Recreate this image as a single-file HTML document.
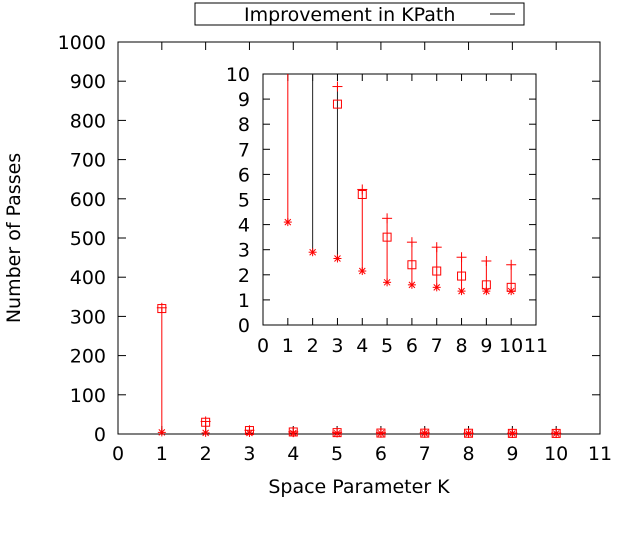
<!DOCTYPE html>
<html><head><meta charset="utf-8"><style>
body{margin:0;background:#fff}
svg text{font-family:"DejaVu Sans","Liberation Sans",sans-serif;fill:#000}
</style></head><body>
<svg id="c" width="640" height="540" viewBox="0 0 640 540"></svg>
<script>
const ks=[1,2,3,4,5,6,7,8,9,10];
const lowVals=[4.1,2.9,2.65,2.15,1.7,1.6,1.5,1.35,1.35,1.35];
const midVals=[320,30,8.8,5.2,3.5,2.4,2.15,1.95,1.6,1.5];
const highVals=[322,32,9.5,5.4,4.25,3.3,3.1,2.7,2.55,2.4];
const mainYTicks=[0,100,200,300,400,500,600,700,800,900,1000];
const xTicks=[0,1,2,3,4,5,6,7,8,9,10,11];
const insetYTicks=[0,1,2,3,4,5,6,7,8,9,10];
const NS="http://www.w3.org/2000/svg";
const svg=document.getElementById('c');
function mk(t,a,p){const e=document.createElementNS(NS,t);for(const k in a)e.setAttribute(k,a[k]);(p||svg).appendChild(e);return e;}
const FS=19;
const mx=v=>118+v*(600-118)/11, my=v=>434-v*(434-42)/1000;
const ix=v=>263+v*(536-263)/11, iy=v=>325-v*(325-74)/10;
let f=mk('rect',{x:118,y:42,width:482,height:392,fill:'none',stroke:'#000','stroke-width':1});

mainYTicks.forEach(v=>{const y=my(v);
 mk('line',{x1:118,x2:126,y1:y,y2:y,stroke:'#000'});mk('line',{x1:600,x2:592,y1:y,y2:y,stroke:'#000'});
 const t=mk('text',{x:106,y:y+7,'text-anchor':'end','font-size':FS});t.textContent=v;
 });
xTicks.forEach(v=>{const x=mx(v);
 mk('line',{x1:x,x2:x,y1:434,y2:426,stroke:'#000'});mk('line',{x1:x,x2:x,y1:42,y2:50,stroke:'#000'});
 const t=mk('text',{x:x,y:460,'text-anchor':'middle','font-size':FS});t.textContent=v;
 });
let yl=mk('text',{x:0,y:0,'text-anchor':'middle','font-size':FS,transform:'translate(25,238) rotate(-90)'});yl.textContent='Number of Passes';

yl.setAttribute('transform','translate(20,238) rotate(-90)');
let xl=mk('text',{x:359,y:493,'text-anchor':'middle','font-size':FS});xl.textContent='Space Parameter K';

let lg=mk('rect',{x:195,y:3,width:329,height:22,fill:'#fff',stroke:'#000'});

let lt=mk('text',{x:244,y:21,'font-size':FS});lt.textContent='Improvement in KPath';

mk('line',{x1:490,x2:515,y1:14,y2:14,stroke:'#000'});
function marks(X,Y,i,lo,mi,hi,clipTop){
 const col='#f00';const xx=X(ks[i]);
 const yh=Math.max(Y(hi),clipTop),ym=Y(mi),yb=Y(lo);
 const l=mk('line',{x1:xx,x2:xx,y1:yh,y2:yb,stroke:(clipTop>50&&(i==1||i==2))?'#222':col,'stroke-width':1});
 
 if(Y(hi)>=clipTop){mk('line',{x1:xx-5,x2:xx+5,y1:Y(hi),y2:Y(hi),stroke:col});mk('line',{x1:xx,x2:xx,y1:Y(hi)-5,y2:Y(hi)+5,stroke:col});}
 if(ym>=clipTop){const b=mk('rect',{x:xx-4,y:ym-4,width:8,height:8,fill:'none',stroke:col});
  }
 const g=mk('g',{stroke:col});
 mk('line',{x1:xx-4,x2:xx+4,y1:yb,y2:yb},g);mk('line',{x1:xx,x2:xx,y1:yb-4,y2:yb+4},g);
 mk('line',{x1:xx-3,x2:xx+3,y1:yb-3,y2:yb+3},g);mk('line',{x1:xx-3,x2:xx+3,y1:yb+3,y2:yb-3},g);
}
ks.forEach((k,i)=>marks(mx,my,i,lowVals[i],midVals[i],highVals[i],42));
let ib=mk('rect',{x:263,y:74,width:273,height:251,fill:'#fff',stroke:'#000'});

insetYTicks.forEach(v=>{const y=iy(v);
 mk('line',{x1:263,x2:270,y1:y,y2:y,stroke:'#000'});mk('line',{x1:536,x2:529,y1:y,y2:y,stroke:'#000'});
 const t=mk('text',{x:250,y:y+7,'text-anchor':'end','font-size':FS});t.textContent=v;
 });
xTicks.forEach(v=>{const x=ix(v);
 mk('line',{x1:x,x2:x,y1:325,y2:318,stroke:'#000'});mk('line',{x1:x,x2:x,y1:74,y2:81,stroke:'#000'});
 const t=mk('text',{x:x,y:352,'text-anchor':'middle','font-size':FS});t.textContent=v;
 });
ks.forEach((k,i)=>marks(ix,iy,i,lowVals[i],midVals[i],highVals[i],74));
</script>
</body></html>
